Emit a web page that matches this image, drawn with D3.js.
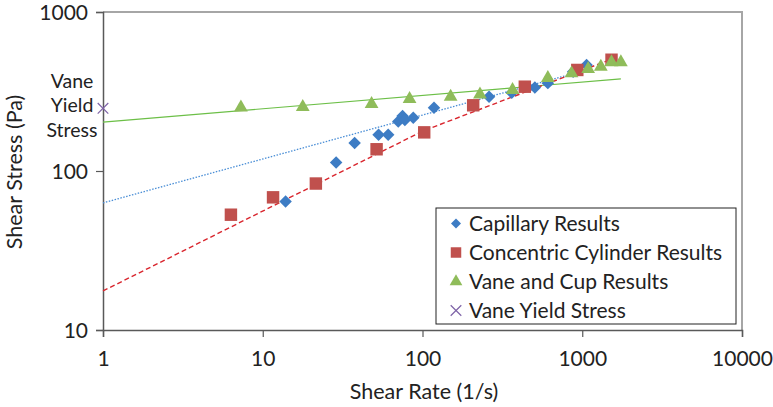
<!DOCTYPE html>
<html>
<head>
<meta charset="utf-8">
<script src="https://cdnjs.cloudflare.com/ajax/libs/d3/7.8.5/d3.min.js"></script>
<style>
  html, body { margin: 0; padding: 0; background: #fff; }
  svg { display: block; font-family: Lato, "Open Sans", sans-serif; }
</style>
</head>
<body>
<div id="chart"></div>
<script>
// Capillary results (shear rate 1/s, shear stress Pa)
const capillaryRate   = [13.9, 28.8, 37.6, 53.1, 61, 70.5, 75, 77.6, 87.5, 118, 261, 362, 505, 609, 877, 1064];
const capillaryStress = [64.3, 113, 150, 169, 169, 205, 222, 209, 216, 250, 293, 310, 335, 357, 421, 464];

// Concentric cylinder results
const cylinderRate   = [6.32, 11.6, 21.5, 51.6, 102.5, 207.6, 437, 931, 1525];
const cylinderStress = [53.1, 68.3, 83.4, 137, 175, 259, 339, 432, 501];

// Vane and cup results
const vaneRate   = [7.3, 17.8, 48, 83, 150, 229, 366, 609, 857, 1089, 1307, 1524, 1745];
const vaneStress = [251, 253, 264, 284, 293, 303, 323, 385, 411, 438, 453, 483, 483];

// Vane yield stress
const yieldRate   = [1];
const yieldStress = [248];

// Trend lines (rate, stress)
const capillaryTrendRate   = [1, 1064];
const capillaryTrendStress = [63, 432];
const cylinderTrendRate    = [1, 100, 1525];
const cylinderTrendStress  = [17.6, 178, 505];
const vaneTrendRate        = [1, 1745];
const vaneTrendStress      = [203, 380];

const xTicks = [1, 10, 100, 1000, 10000];
const yTicks = [10, 100, 1000];
const legendLabels = ['Capillary Results', 'Concentric Cylinder Results', 'Vane and Cup Results', 'Vane Yield Stress'];

const W = 773, H = 407;
const margin = { top: 12, right: 31, bottom: 77, left: 103 };
const width = W - margin.left - margin.right;
const height = H - margin.top - margin.bottom;
const FONT = '21px';

const svg = d3.select('#chart').append('svg')
  .attr('width', W)
  .attr('height', H);

const g = svg.append('g')
  .attr('transform', `translate(${margin.left},${margin.top})`);

const x = d3.scaleLog().domain([1, 10000]).range([0, width]);
const y = d3.scaleLog().domain([10, 1000]).range([height, 0]);

// Plot frame (top and right in light gray)
g.append('path')
  .attr('d', `M0,0H${width}V${height}`)
  .attr('fill', 'none')
  .attr('stroke', '#a6a6a6')
  .attr('stroke-width', 2);

// Axes
const xAxis = g.append('g')
  .attr('transform', `translate(0,${height})`)
  .call(d3.axisBottom(x).tickValues(xTicks).tickFormat(d3.format('d')).tickSize(7).tickPadding(14));

const yAxis = g.append('g')
  .call(d3.axisLeft(y).tickValues(yTicks).tickFormat(d3.format('d')).tickSize(7).tickPadding(8));

[xAxis, yAxis].forEach(ax => {
  ax.select('.domain').attr('stroke', '#595959').attr('stroke-width', 1.5);
  ax.selectAll('.tick line').attr('stroke', '#595959').attr('stroke-width', 1.2);
  ax.selectAll('.tick text')
    .attr('fill', '#222')
    .style('font-size', FONT)
    .style('font-family', 'Lato, sans-serif');
});
yAxis.selectAll('.tick text').attr('dy', '0.36em');

// Axis titles
svg.append('text')
  .attr('x', 424)
  .attr('y', 391)
  .attr('dy', '0.35em')
  .attr('text-anchor', 'middle')
  .attr('fill', '#222')
  .style('font-size', '21.5px')
  .text('Shear Rate (1/s)');

svg.append('text')
  .attr('transform', 'translate(14,172) rotate(-90)')
  .attr('dy', '0.35em')
  .attr('text-anchor', 'middle')
  .attr('fill', '#222')
  .style('font-size', '21.5px')
  .text('Shear Stress (Pa)');

// "Vane Yield Stress" annotation left of the axis
['Vane', 'Yield', 'Stress'].forEach((t, i) => {
  svg.append('text')
    .attr('x', 72)
    .attr('y', 81 + i * 24.5)
    .attr('dy', '0.35em')
    .attr('text-anchor', 'middle')
    .attr('fill', '#222')
    .style('font-size', '19.5px')
    .text(t);
});

// Trend lines
const line = d3.line().x(d => x(d[0])).y(d => y(d[1]));

function trend(rates, stresses, color, dash, sw) {
  g.append('path')
    .datum(rates.map((r, i) => [r, stresses[i]]))
    .attr('d', line)
    .attr('fill', 'none')
    .attr('stroke', color)
    .attr('stroke-width', sw)
    .attr('stroke-dasharray', dash);
}

trend(vaneTrendRate, vaneTrendStress, '#6cbf47', null, 1.2);
trend(capillaryTrendRate, capillaryTrendStress, '#4a8ed6', '1.5,1.5', 1.3);
trend(cylinderTrendRate, cylinderTrendStress, '#d9262e', '5,3', 1.4);

// Markers
const diamond = d3.symbol().type(d3.symbolSquare).size(78)();
const square = d3.symbol().type(d3.symbolSquare).size(155)();
const triangle = d3.symbol().type(d3.symbolTriangle).size(82)();
const cross = d3.symbol().type(d3.symbolX).size(75)();

function markers(rates, stresses, path, fill, rotate) {
  g.append('g').selectAll('path')
    .data(rates.map((r, i) => [r, stresses[i]]))
    .join('path')
    .attr('d', path)
    .attr('transform', d => `translate(${x(d[0])},${y(d[1])})${rotate ? ' rotate(45)' : ''}`)
    .attr('fill', fill);
}

markers(capillaryRate, capillaryStress, diamond, '#3d7cc4', true);
markers(cylinderRate, cylinderStress, square, '#c0504d', false);
markers(vaneRate, vaneStress, triangle, '#8fbc5a', false);

g.append('g').selectAll('path')
  .data(yieldRate.map((r, i) => [r, yieldStress[i]]))
  .join('path')
  .attr('d', cross)
  .attr('transform', d => `translate(${x(d[0])},${y(d[1])})`)
  .attr('fill', 'none')
  .attr('stroke', '#7f64a8')
  .attr('stroke-width', 1.2);

// Legend
const legend = svg.append('g')
  .attr('transform', 'translate(436,208)');

legend.append('rect')
  .attr('width', 300)
  .attr('height', 116)
  .attr('fill', '#fff')
  .attr('stroke', '#222')
  .attr('stroke-width', 1);

const legendMarks = [
  { path: d3.symbol().type(d3.symbolSquare).size(50)(), fill: '#3d7cc4', rotate: true },
  { path: d3.symbol().type(d3.symbolSquare).size(110)(), fill: '#c0504d' },
  { path: d3.symbol().type(d3.symbolTriangle).size(70)(), fill: '#8fbc5a' },
  { path: cross, stroke: '#7f64a8' }
];

legendLabels.forEach((label, i) => {
  const row = legend.append('g')
    .attr('transform', `translate(0,${15.5 + i * 29})`);
  const m = legendMarks[i];
  row.append('path')
    .attr('d', m.path)
    .attr('transform', `translate(20,0)${m.rotate ? ' rotate(45)' : ''}`)
    .attr('fill', m.fill || 'none')
    .attr('stroke', m.stroke || null)
    .attr('stroke-width', m.stroke ? 1.2 : null);
  row.append('text')
    .attr('x', 33)
    .attr('dy', '0.35em')
    .attr('fill', '#222')
    .style('font-size', FONT)
    .text(label);
});
</script>
</body>
</html>
